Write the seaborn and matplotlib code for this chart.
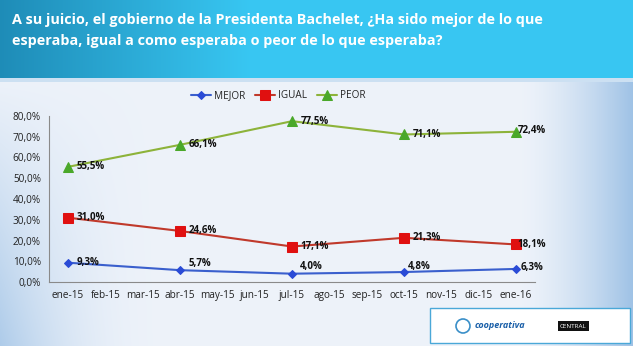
import numpy as np
import pandas as pd
import matplotlib
matplotlib.use("Agg")
import matplotlib.pyplot as plt
import seaborn as sns
from matplotlib.patches import Rectangle, Ellipse

months = ["ene-15", "feb-15", "mar-15", "abr-15", "may-15", "jun-15", "jul-15",
          "ago-15", "sep-15", "oct-15", "nov-15", "dic-15", "ene-16"]
survey_months = ["ene-15", "abr-15", "jul-15", "oct-15", "ene-16"]
mejor = [9.3, 5.7, 4.0, 4.8, 6.3]
igual = [31.0, 24.6, 17.1, 21.3, 18.1]
peor = [55.5, 66.1, 77.5, 71.1, 72.4]
series_names = ["MEJOR", "IGUAL", "PEOR"]
title = ("A su juicio, el gobierno de la Presidenta Bachelet, ¿Ha sido mejor de lo que\n"
         "esperaba, igual a como esperaba o peor de lo que esperaba?")

sns.set_style("white")
plt.rcParams["font.family"] = ["Open Sans", "DejaVu Sans"]

W, H = 633, 346
fig = plt.figure(figsize=(W / 100, H / 100), dpi=100)

# background
bg = fig.add_axes([0, 0, 1, 1], zorder=-10)
bg.set_axis_off()
yy, xx = np.mgrid[0:H, 0:W]
img = np.zeros((H, W, 3))
light = np.array([0.93, 0.95, 0.98])
edge = np.array([0.62, 0.76, 0.90])
dl = np.clip(1 - xx / 160.0, 0, 1) ** 2 * np.clip((yy - 78) / 268.0, 0, 1) * 0.8
dr = np.clip((xx - 520) / 113.0, 0, 1) ** 1.5
t = np.clip(dl + dr, 0, 1)[..., None]
img[:] = light * (1 - t) + edge * t
hdr = yy < 78
c1 = np.array([0.12, 0.55, 0.72])
c2 = np.array([0.22, 0.78, 0.95])
s = np.clip(xx / 250.0, 0, 1)[..., None]
himg = c1 * (1 - s) + c2 * s
img[hdr] = himg[hdr]
img[(yy >= 78) & (yy < 82)] = np.array([0.80, 0.88, 0.95])
bg.imshow(img, aspect="auto", extent=[0, 1, 0, 1], transform=bg.transAxes)

fig.text(12 / W, 1 - 13 / H, title, color="white", fontsize=10.4, fontweight="bold",
         va="top", ha="left", linespacing=1.6)

ax = fig.add_axes([49.3 / W, 1 - 282 / H, (534.7 - 49.3) / W, (282 - 116) / H])
ax.set_facecolor("none")

pos = {m: i for i, m in enumerate(months)}
rows = []
for name, vals in zip(series_names, [mejor, igual, peor]):
    for m, v in zip(survey_months, vals):
        rows.append({"mes": pos[m], "valor": v, "serie": name})
df = pd.DataFrame(rows)

colors = {"MEJOR": "#3a5fcd", "IGUAL": "#c0392b", "PEOR": "#8db33a"}
mcolors = {"MEJOR": "#2a4bd6", "IGUAL": "#e01010", "PEOR": "#4aa82a"}
markers = {"MEJOR": "D", "IGUAL": "s", "PEOR": "^"}
msize = {"MEJOR": 4.5, "IGUAL": 6.5, "PEOR": 6.5}

for name in series_names:
    d = df[df.serie == name]
    sns.lineplot(data=d, x="mes", y="valor", ax=ax, color=colors[name], lw=1.5,
                 marker=markers[name], markersize=msize[name],
                 markerfacecolor=mcolors[name], markeredgecolor=mcolors[name],
                 label=name, legend=False)

offsets = {
    "MEJOR": [(6, 0), (6, 5), (6, 5), (3, 4), (3, 1)],
    "IGUAL": [(6, 0), (6, 0), (6, 0), (6, 0), (1, 0)],
    "PEOR": [(6, 0), (6, 0), (6, 0), (6, 0), (1, 1)],
}
for name, vals in zip(series_names, [mejor, igual, peor]):
    for (m, v), off in zip(zip(survey_months, vals), offsets[name]):
        ax.annotate(f"{v:.1f}%".replace(".", ","), (pos[m], v), xytext=off,
                    textcoords="offset points", fontsize=7, fontweight="bold",
                    va="center", ha="left", color="#111111")

ax.set_xlim(-0.5, 12.5)
ax.set_ylim(0, 80)
ax.set_yticks(np.arange(0, 81, 10))
ax.set_yticklabels([f"{v:.1f}%".replace(".", ",") for v in np.arange(0, 81, 10)],
                   fontsize=7.2, color="#222222")
ax.set_xticks(range(len(months)))
ax.set_xticklabels(months, fontsize=7.2, color="#222222")
ax.set_xticks(np.arange(-0.5, 12.6, 1), minor=True)
ax.tick_params(axis="x", which="major", length=0, pad=6)
ax.tick_params(axis="x", which="minor", length=4, color="#8a8a8a", direction="out")
ax.tick_params(axis="y", length=4, color="#8a8a8a", direction="out", pad=2)
ax.set_xlabel("")
ax.set_ylabel("")
for sp in ["top", "right"]:
    ax.spines[sp].set_visible(False)
for sp in ["left", "bottom"]:
    ax.spines[sp].set_color("#8a8a8a")
    ax.spines[sp].set_linewidth(0.8)

handles, labels = ax.get_legend_handles_labels()
fig.legend(handles, labels, loc="center", bbox_to_anchor=(278 / W, 1 - 96 / H),
           ncol=3, frameon=False, fontsize=7.2, handlelength=2.0,
           columnspacing=1.0, handletextpad=0.3)

# logo box
fig.patches.append(Rectangle((430 / W, 1 - 343 / H), 200 / W, 35 / H,
                             transform=fig.transFigure, facecolor="white",
                             edgecolor="#4aa8d8", lw=1))
fig.patches.append(Ellipse((463 / W, 1 - 326 / H), 14 / W, 14 / H,
                           transform=fig.transFigure, facecolor="none",
                           edgecolor="#3a8fc8", lw=1.2))
fig.text(500 / W, 1 - 326 / H, "cooperativa", fontsize=6.5, color="#1a5fa8",
         fontstyle="italic", fontweight="bold", ha="center", va="center")
fig.text(560 / W, 1 - 326 / H, "CENTRAL", fontsize=4.5, color="white",
         ha="left", va="center",
         bbox=dict(facecolor="#111111", edgecolor="none", pad=1.5))

fig.savefig("out.png", dpi=100)
